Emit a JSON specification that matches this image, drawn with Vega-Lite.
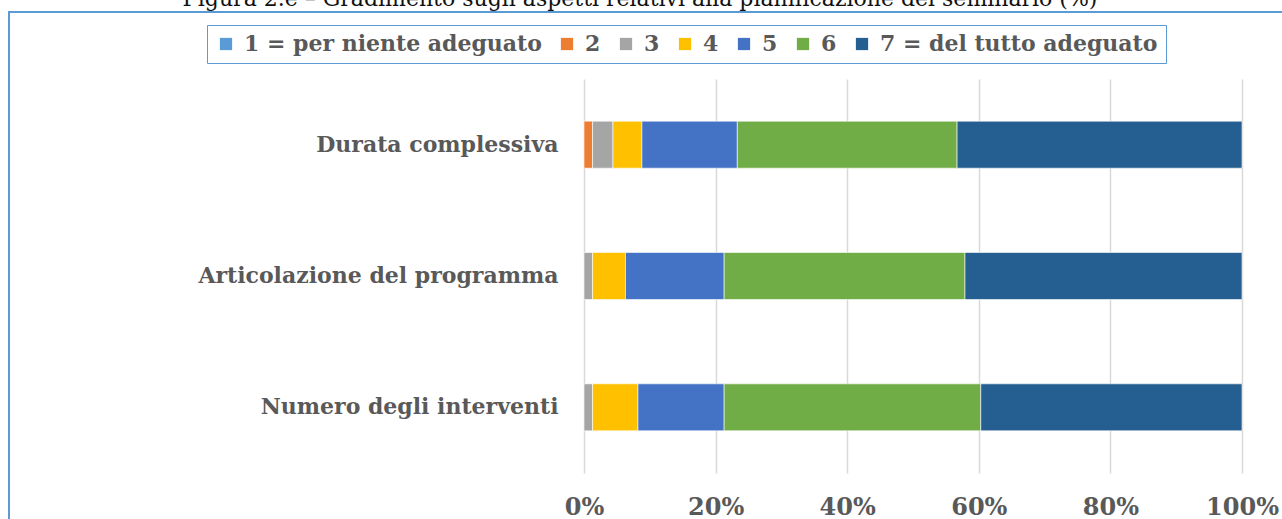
{
  "$schema": "https://vega.github.io/schema/vega-lite/v6.json",
  "autosize": {"type": "none"},
  "width": 1290,
  "height": 528,
  "padding": {"left": 9, "top": 12, "right": -17, "bottom": -21},
  "background": "white",
  "config": {"view": {"stroke": "#5B9BD5", "strokeWidth": 2}, "font": "DejaVu Serif"},
  "title": {
    "text": "Figura 2.e – Gradimento sugli aspetti relativi alla pianificazione del seminario (%)",
    "anchor": "middle",
    "frame": "group",
    "font": "DejaVu Serif",
    "fontSize": 22,
    "fontWeight": "normal",
    "color": "#111111",
    "baseline": "alphabetic",
    "offset": -16,
    "dx": -14
  },
  "data": {
    "values": [
      {"aspetto": "Durata complessiva", "livello": 2, "etichetta": "2", "pct": 1.3},
      {"aspetto": "Durata complessiva", "livello": 3, "etichetta": "3", "pct": 3.1},
      {"aspetto": "Durata complessiva", "livello": 4, "etichetta": "4", "pct": 4.4},
      {"aspetto": "Durata complessiva", "livello": 5, "etichetta": "5", "pct": 14.5},
      {"aspetto": "Durata complessiva", "livello": 6, "etichetta": "6", "pct": 33.4},
      {"aspetto": "Durata complessiva", "livello": 7, "etichetta": "7 = del tutto adeguato", "pct": 43.3},
      {"aspetto": "Articolazione del programma", "livello": 3, "etichetta": "3", "pct": 1.3},
      {"aspetto": "Articolazione del programma", "livello": 4, "etichetta": "4", "pct": 5.0},
      {"aspetto": "Articolazione del programma", "livello": 5, "etichetta": "5", "pct": 15.0},
      {"aspetto": "Articolazione del programma", "livello": 6, "etichetta": "6", "pct": 36.6},
      {"aspetto": "Articolazione del programma", "livello": 7, "etichetta": "7 = del tutto adeguato", "pct": 42.1},
      {"aspetto": "Numero degli interventi", "livello": 3, "etichetta": "3", "pct": 1.3},
      {"aspetto": "Numero degli interventi", "livello": 4, "etichetta": "4", "pct": 6.9},
      {"aspetto": "Numero degli interventi", "livello": 5, "etichetta": "5", "pct": 13.1},
      {"aspetto": "Numero degli interventi", "livello": 6, "etichetta": "6", "pct": 39.0},
      {"aspetto": "Numero degli interventi", "livello": 7, "etichetta": "7 = del tutto adeguato", "pct": 39.7}
    ]
  },
  "mark": {"type": "bar", "stroke": "white", "strokeWidth": 0.6},
  "encoding": {
    "y": {
      "field": "aspetto",
      "type": "nominal",
      "sort": ["Durata complessiva", "Articolazione del programma", "Numero degli interventi"],
      "scale": {"range": [67, 461], "paddingInner": 0.642, "paddingOuter": 0.321},
      "axis": {
        "title": null,
        "domain": false,
        "ticks": false,
        "grid": false,
        "labelPadding": 0,
        "offset": -549,
        "labelFont": "DejaVu Serif",
        "labelFontSize": 22,
        "labelFontWeight": "bold",
        "labelColor": "#595959",
        "labelLimit": 0
      }
    },
    "x": {
      "field": "pct",
      "type": "quantitative",
      "stack": "zero",
      "scale": {"domain": [0, 100], "range": [575, 1233]},
      "axis": {
        "title": null,
        "values": [0, 20, 40, 60, 80, 100],
        "labelExpr": "datum.value + '%'",
        "grid": true,
        "gridColor": "#D9D9D9",
        "gridWidth": 1.5,
        "domain": false,
        "ticks": false,
        "labelPadding": -26,
        "labelBaseline": "alphabetic",
        "offset": 0,
        "labelFont": "DejaVu Serif",
        "labelFontSize": 24,
        "labelFontWeight": "bold",
        "labelColor": "#595959",
        "labelFlush": false,
        "labelOverlap": false
      }
    },
    "color": {
      "field": "etichetta",
      "type": "nominal",
      "scale": {
        "domain": ["1 = per niente adeguato", "2", "3", "4", "5", "6", "7 = del tutto adeguato"],
        "range": ["#5B9BD5", "#ED7D31", "#A5A5A5", "#FFC000", "#4472C4", "#70AD47", "#255E91"]
      },
      "legend": {
        "orient": "none",
        "legendX": 198,
        "legendY": 13,
        "direction": "horizontal",
        "columns": 7,
        "title": null,
        "symbolType": "square",
        "symbolSize": 150,
        "symbolStrokeWidth": 0,
        "symbolOpacity": 1,
        "labelFont": "DejaVu Serif",
        "labelFontSize": 22,
        "labelFontWeight": "bold",
        "labelColor": "#595959",
        "labelLimit": 0,
        "labelOffset": 7,
        "columnPadding": 14,
        "padding": 8,
        "strokeColor": "#5B9BD5",
        "encode": {
          "legend": {"update": {"strokeWidth": {"value": 2}}}
        }
      }
    },
    "order": {"field": "livello", "type": "quantitative"}
  }
}
